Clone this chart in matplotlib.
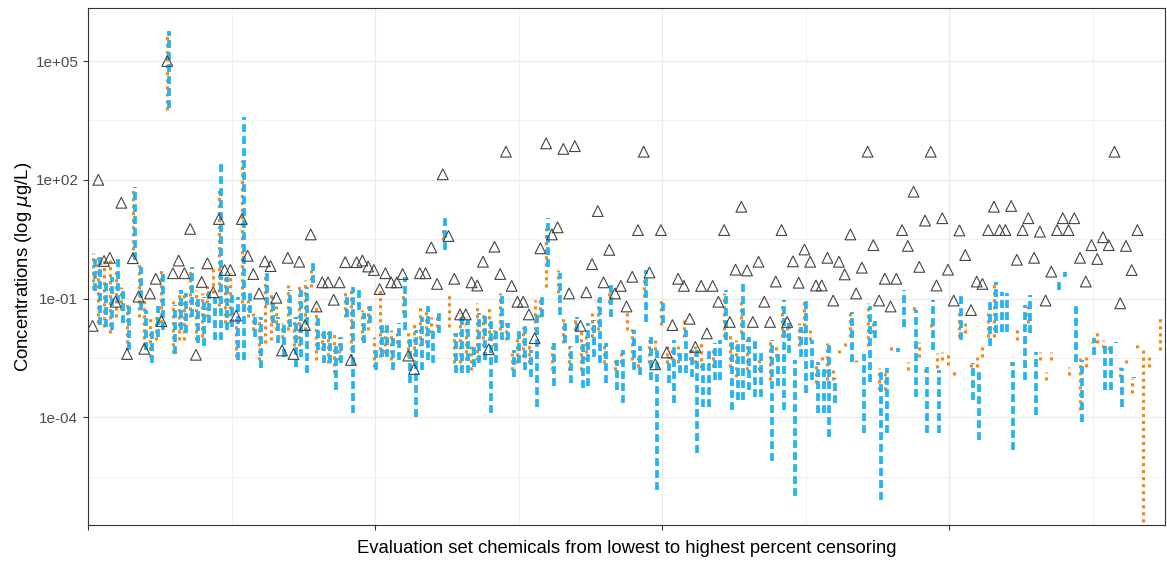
import numpy as np
import matplotlib
matplotlib.use("Agg")
import matplotlib.pyplot as plt
from matplotlib.ticker import FixedLocator, NullFormatter

nan = np.nan

# log10 concentration of the open triangles, one value per chemical (1..187)
tri_log = [
    -1.69, 2.0, -0.05, 0.03, -1.08, 1.42, -2.40, 0.02, -0.95, -2.27,
    -0.87, -0.50, -1.57, 5.0, -0.36, -0.04, -0.36, 0.76, -2.42, -0.58,
    -0.11, -0.84, 1.01, -0.28, -0.28, -1.43, 1.01, 0.08, -0.38, -0.87,
    -0.06, -0.18, -0.98, -2.31, 0.03, -2.40, -0.07, -1.67, 0.62, -1.20,
    -0.59, -0.59, -1.03, -0.59, -0.08, -2.55, -0.08, -0.04, -0.19, -0.28,
    -0.76, -0.36, -0.59, -0.59, -0.38, -2.44, -2.78, -0.36, -0.36, 0.29,
    -0.63, 2.14, 0.58, -0.50, -1.40, -1.40, -0.59, -0.67, -0.07, -2.28,
    0.31, -0.38, 2.71, -0.68, -1.08, -1.08, -1.40, -2.00, 0.27, 2.92,
    0.62, 0.80, 2.78, -0.87, 2.85, -1.69, -0.84, -0.13, 1.21, -0.59,
    0.23, -0.87, -0.68, -1.20, -0.45, 0.73, 2.71, -0.34, -2.66, 0.73,
    -2.36, -1.67, -0.50, -0.68, -1.51, -2.22, -0.68, -1.88, -0.68, -1.08,
    0.73, -1.59, -0.27, 1.32, -0.29, -1.59, -0.07, -1.08, -1.59, -0.57,
    0.73, -1.59, -0.06, -0.60, 0.24, -0.07, -0.67, -0.67, 0.03, -1.05,
    -0.07, -0.39, 0.62, -0.87, -0.22, 2.71, 0.35, -1.05, -0.50, -1.20,
    -0.50, 0.73, 0.33, 1.70, -0.20, 0.97, 2.71, -0.67, 1.03, -0.27,
    -1.05, 0.72, 0.10, -1.29, -0.57, -0.63, 0.73, 1.32, 0.73, 0.73,
    1.34, -0.02, 0.73, 1.03, 0.03, 0.69, -1.05, -0.32, 0.73, 1.03,
    0.73, 1.03, 0.03, -0.57, 0.35, 0.00, 0.55, 0.35, 2.71, -1.12,
    0.33, -0.28, 0.73, nan, nan, nan, nan,
]

# orange (dotted) range, log10 low / high
orange_lo = [
    -0.75, -1.62, -1.71, -1.88, -1.46, -1.29, -2.30, 0.06, -1.46, -2.21,
    -2.47, -2.04, -1.62, 3.76, -2.38, -2.04, -2.04, -1.46, -2.04, -1.96,
    -1.46, -0.87, -1.20, -1.62, -1.62, -2.47, -1.12, -1.46, -1.79, -2.55,
    -2.13, -2.04, -1.79, -2.00, -1.79, -2.21, -2.21, -1.79, -0.70, -2.55,
    -2.30, -2.63, -2.89, -2.55, -1.46, -2.47, nan, -2.04, -1.79, -2.72,
    -2.47, -2.38, -2.55, -2.13, -1.37, -2.47, -2.63, -2.21, -2.13, -1.88,
    -1.71, 0.48, -1.71, -2.63, -2.63, -2.55, -2.80, -2.55, -2.21, -2.04,
    -2.21, -1.79, -2.04, -2.80, -2.63, -2.47, -2.63, -1.79, -1.46, -0.70,
    -2.80, -0.87, -2.13, -2.80, -1.79, -2.80, -2.55, -1.96, -1.79, -2.63,
    -1.12, -2.80, -2.63, -1.79, -2.55, -2.72, -0.95, -2.63, -2.30, -1.67,
    -2.63, -2.55, -2.63, -1.96, -2.55, -2.63, -2.76, nan, -2.72, nan,
    -1.96, -2.72, -2.97, -1.88, -2.80, nan, -2.80, nan, -3.06, -2.47,
    -1.96, -1.96, nan, -2.21, -1.88, -2.05, -3.14, -2.55, -3.06, -3.06,
    -2.38, -2.21, -1.96, -2.59, nan, -2.21, -1.88, -3.31, -3.31, -2.30,
    nan, nan, -2.80, -1.29, -2.47, -2.85, -1.71, -2.76, -2.55, -2.68,
    -2.93, -1.96, -1.88, -2.72, -2.72, -2.47, -1.96, -1.96, nan, nan,
    -2.68, -2.05, nan, -1.62, nan, -2.55, -3.06, -2.55, nan, nan,
    -2.93, nan, -3.81, -2.72, -2.13, -2.13, -2.26, -2.30, nan, -2.97,
    -2.63, -3.39, -2.26, -7.00, -2.72, nan, -2.30,
]
orange_hi = [
    0.15, 0.06, -0.02, -0.02, -0.28, -0.70, -1.12, 1.83, -0.11, -0.95,
    -1.46, -1.46, -0.19, 5.66, -1.05, -0.78, -0.87, -0.28, -0.78, -0.87,
    -0.61, -0.19, 1.83, -0.45, -0.36, -1.46, 2.50, -1.03, -1.37, -1.46,
    -0.36, -0.87, -1.20, -1.62, -0.66, -1.46, -0.61, -0.53, -0.28, -1.12,
    -1.79, -1.79, -1.88, -1.96, -0.78, -0.70, nan, -1.29, -1.20, -1.96,
    -0.78, -1.79, -1.79, -1.88, -0.87, -1.79, -1.62, -1.20, -1.29, -1.46,
    -1.37, 0.82, -0.91, -1.88, -1.37, -1.46, -2.21, -1.12, -1.33, -1.16,
    -1.79, -0.87, -1.54, -2.38, -1.96, -1.71, -2.13, -1.03, -0.95, 0.82,
    -2.13, -0.28, -1.46, -2.21, -1.46, -1.79, -1.88, -1.37, -0.91, -2.21,
    -0.78, -2.55, -2.30, -1.29, -1.71, -2.47, -0.45, -2.04, -2.04, -0.95,
    -2.21, -2.21, -2.21, -1.54, -2.21, -2.21, -2.08, nan, -2.21, nan,
    -0.87, -1.88, -2.05, -1.04, -1.96, nan, -2.47, nan, -2.05, -2.21,
    -1.12, -1.71, nan, -1.62, -1.04, -1.79, -2.63, -2.38, -2.13, -2.80,
    -2.30, -2.13, -1.37, -2.55, nan, -1.12, -1.54, -2.76, -2.80, -2.17,
    nan, nan, -2.59, -1.12, -2.09, -2.76, -1.54, -2.38, -2.34, -2.38,
    -2.80, -1.37, -1.62, -2.59, -2.47, -2.13, -1.37, -0.57, nan, nan,
    -2.55, -1.79, nan, -1.16, nan, -2.34, -2.85, -2.34, nan, nan,
    -2.72, nan, -2.51, -2.47, -2.09, -1.84, -2.05, -2.13, nan, -2.72,
    -2.55, -3.00, -2.13, -2.30, -2.47, nan, -1.50,
]

# blue (dashed) range, log10 low / high
blue_lo = [
    -0.82, -1.67, -1.71, -1.79, -1.12, -1.62, -2.30, -0.02, -1.29, -2.30,
    -2.63, -1.96, -1.79, 3.81, -2.40, -1.79, -1.88, -1.46, -2.13, -2.21,
    -1.62, -2.04, -2.04, -1.79, -1.71, -2.55, -2.55, -1.37, -1.96, -2.76,
    -1.16, -1.62, -2.13, -2.47, -1.71, -2.72, -2.47, -2.89, -0.61, -2.30,
    -2.63, -2.63, -3.31, -2.63, -1.46, -3.90, -1.29, -2.13, -1.62, -2.80,
    -2.47, -2.47, -2.80, -2.55, -1.79, -3.14, -3.98, -2.80, -2.55, -2.63,
    -1.88, 0.23, nan, -2.89, -2.89, -2.89, -2.72, -2.63, -2.55, -3.90,
    -2.63, -2.04, -2.04, -2.97, -2.63, -2.80, -2.97, -3.73, -1.46, -0.19,
    -3.22, -1.41, -2.13, -3.14, -2.13, -3.27, -3.22, -2.47, -2.63, -3.14,
    -1.46, -3.31, -3.65, nan, -2.80, -2.93, -1.58, -3.05, -5.83, -1.62,
    -3.14, -3.65, -2.89, -2.89, -2.97, -4.90, -3.75, -3.73, -3.06, -3.06,
    -2.05, -3.81, -3.56, -3.56, -3.31, -3.48, -3.48, nan, -5.10, -3.22,
    -3.81, -2.38, -6.00, -2.47, -3.39, -3.06, -3.90, -3.90, -4.50, -3.64,
    nan, nan, -2.60, nan, -4.40, -3.12, -2.00, -6.10, -4.40, nan,
    -2.34, -1.71, nan, -3.48, nan, -4.40, -2.30, -4.40, nan, nan,
    nan, -2.05, nan, -3.56, -4.57, nan, -2.21, -1.88, -1.84, -1.84,
    -4.82, nan, -3.05, -1.88, -3.94, nan, nan, nan, -0.78, -0.45,
    nan, -2.59, -4.11, nan, -2.43, nan, -3.31, -3.31, -2.13, -3.73,
    nan, -3.01, nan, nan, nan, nan, nan,
]
blue_hi = [
    0.10, 0.06, -0.53, -0.45, 0.02, -0.70, -1.20, 1.83, -0.19, -1.29,
    -1.71, -1.20, -0.28, 5.77, -1.15, -0.78, -0.87, -0.19, -0.95, -0.95,
    -0.78, -0.95, 2.46, -0.45, -0.87, -0.95, 3.59, -0.87, -1.46, -1.46,
    -0.28, -0.95, -1.46, -1.62, -0.78, -1.46, -0.78, -0.70, -0.07, -1.46,
    -1.79, -1.79, -2.13, -1.96, -0.87, -0.70, -0.70, -1.37, -1.20, -2.21,
    -1.62, -1.62, -1.96, -1.62, -0.45, -1.96, -1.79, -1.46, -1.20, -1.79,
    -1.29, 1.07, nan, -1.88, -1.37, -1.54, -2.21, -1.37, -1.37, -1.46,
    -1.71, -0.87, -1.62, -2.30, -1.79, -1.62, -2.30, -1.37, -0.87, 1.03,
    -2.13, -0.36, -1.54, -2.21, -1.46, -2.13, -1.62, -1.54, -0.95, -2.13,
    -0.61, -2.55, -2.30, nan, -1.79, -2.21, -0.28, -1.96, -2.30, -1.03,
    -2.47, -2.04, -2.30, -1.79, -2.30, -2.30, -2.60, -2.30, -2.13, -2.05,
    -0.78, -2.05, -2.05, -0.62, -1.96, -1.96, -2.38, nan, -2.05, -2.30,
    -1.04, -1.62, -2.55, -1.71, -1.04, -2.05, -2.59, -2.72, -2.10, -3.01,
    nan, nan, -1.35, nan, -2.40, -1.20, -1.56, -2.85, -2.76, nan,
    -2.25, -0.78, nan, -1.29, nan, -2.72, -1.04, -2.80, nan, nan,
    nan, -0.91, nan, -2.63, -2.76, nan, -1.04, -0.57, -0.83, -0.87,
    -2.59, nan, -1.16, -0.91, -2.34, nan, nan, nan, -0.57, -0.32,
    nan, -1.12, -2.55, nan, -2.00, nan, -2.13, -2.09, -2.09, -2.76,
    nan, -2.97, nan, nan, nan, nan, nan,
]

y_ticks = [1e-4, 1e-1, 1e2, 1e5]
y_labels = ["1e-04", "1e-01", "1e+02", "1e+05"]


def segments(x, lo, hi):
    lo = np.asarray(lo, float)
    hi = np.asarray(hi, float)
    ok = ~np.isnan(lo) & ~np.isnan(hi)
    return x[ok], 10 ** lo[ok], 10 ** hi[ok]


def main():
    plt.rcParams['font.family'] = ['Liberation Sans', 'DejaVu Sans']
    fig = plt.figure(figsize=(11.67, 5.62), dpi=100)
    ax = fig.add_axes([88 / 1167, 1 - 525 / 562, 1077 / 1167, 517 / 562])

    chem = np.arange(1, len(tri_log) + 1)

    # orange dotted ranges
    xo, lo, hi = segments(chem - 0.2, orange_lo, orange_hi)
    ax.vlines(xo, lo, hi, colors='#F28A1A', linewidth=2.3,
              linestyles=(0, (1.0, 1.2)), zorder=3)

    # blue dashed ranges
    xb, lo, hi = segments(chem + 0.15, blue_lo, blue_hi)
    ax.vlines(xb, lo, hi, colors='#22B4F3', linewidth=2.7,
              linestyles=(0, (2.1, 1.1)), zorder=4)

    # triangles
    t = np.asarray(tri_log, float)
    ok = ~np.isnan(t)
    ax.scatter(chem[ok] - 0.2, 10 ** t[ok], marker='^', s=60,
               facecolors='none', edgecolors='#444444', linewidths=0.8,
               zorder=5)

    ax.set_yscale('log')
    ax.set_ylim(10 ** -6.72, 10 ** 6.34)
    ax.set_xlim(0, 187.6)

    ax.yaxis.set_major_locator(FixedLocator(y_ticks))
    ax.set_yticklabels(y_labels)
    ax.yaxis.set_minor_locator(FixedLocator([10 ** -5.5, 10 ** -2.5,
                                             10 ** 0.5, 10 ** 3.5]))
    ax.yaxis.set_minor_formatter(NullFormatter())
    ax.xaxis.set_major_locator(FixedLocator([0, 50, 100, 150]))
    ax.xaxis.set_major_formatter(NullFormatter())
    ax.xaxis.set_minor_locator(FixedLocator([25, 75, 125, 175]))

    ax.grid(True, which='major', color='#EBEBEB', linewidth=0.9, zorder=0)
    ax.grid(True, which='minor', color='#EBEBEB', linewidth=0.5, zorder=0)
    ax.set_axisbelow(True)

    for s in ax.spines.values():
        s.set_color('#333333')
        s.set_linewidth(0.8)
    ax.tick_params(which='major', length=3.5, width=0.8, color='#333333',
                   labelcolor='#4D4D4D', labelsize=11)
    ax.tick_params(which='minor', length=0)

    ax.set_ylabel('Concentrations (log $\\mu$g/L)', fontsize=13.3, labelpad=1)
    ax.set_xlabel('Evaluation set chemicals from lowest to highest percent censoring',
                  fontsize=13.3, labelpad=4)

    fig.savefig('out.png', dpi=100)


if __name__ == "__main__":
    main()
